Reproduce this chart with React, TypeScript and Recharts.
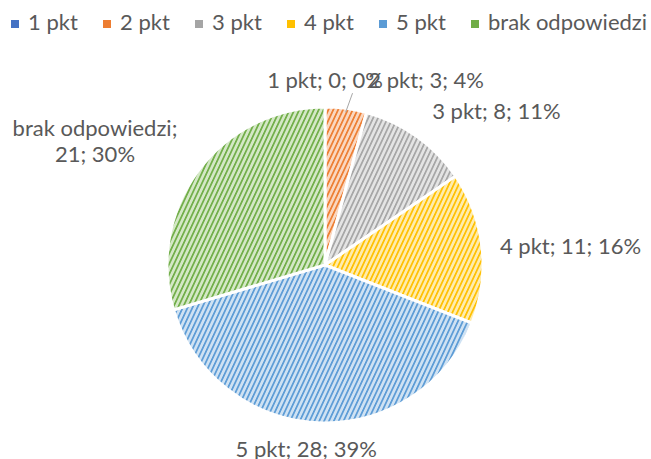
import { Cell, Legend, Pie, PieChart } from 'recharts'

const categories = ['1 pkt', '2 pkt', '3 pkt', '4 pkt', '5 pkt', 'brak odpowiedzi']
const counts = [0, 3, 8, 11, 28, 21]
const percentLabels = ['0%', '4%', '11%', '16%', '39%', '30%']

const colors = ['#4472C4', '#ED7D31', '#A5A5A5', '#FFC000', '#5B9BD5', '#70AD47']
const lightColors = ['#C9D6EE', '#FAD7C0', '#E4E4E4', '#FFECAD', '#CFE2F3', '#D4E8C6']

const data = categories.map((name, i) => ({ name, value: counts[i] }))

const TEXT = '#595959'
const FONT = 'Lato, "Open Sans", sans-serif'
const RADIAN = Math.PI / 180

// small nudges to mimic Excel's label placement
const labelNudge = [
  [0, -10],
  [20, -11],
  [5, -11],
  [0, 0],
  [-11, 8],
  [0, -19],
]

const renderLabel = (props: any) => {
  const { cx, cy, midAngle, outerRadius, index } = props
  const r = outerRadius + 18
  const cos = Math.cos(-midAngle * RADIAN)
  const sin = Math.sin(-midAngle * RADIAN)
  const x = cx + r * cos + labelNudge[index][0]
  const y = cy + r * sin + labelNudge[index][1]
  const text = `${categories[index]}; ${counts[index]}; ${percentLabels[index]}`

  if (index === 5) {
    // two line label on the left, centred block
    const bx = x - 89
    return (
      <text x={bx} y={y} fill={TEXT} fontSize={22} fontFamily={FONT} textAnchor="middle">
        <tspan x={bx} dy={-13} dominantBaseline="central">{categories[index]};</tspan>
        <tspan x={bx} dy={26} dominantBaseline="central">{`${counts[index]}; ${percentLabels[index]}`}</tspan>
      </text>
    )
  }

  let anchor: 'start' | 'middle' | 'end' = 'middle'
  if (index === 1 || index === 2 || index === 3) anchor = 'start'

  const leader =
    index === 0 ? (
      <line
        x1={cx + outerRadius * Math.sin(7.5 * RADIAN)}
        y1={cy - outerRadius * Math.cos(7.5 * RADIAN) + 4}
        x2={cx + (outerRadius + 18) * Math.sin(9 * RADIAN)}
        y2={cy - (outerRadius + 18) * Math.cos(9 * RADIAN) + 2}
        stroke="#A6A6A6"
        strokeWidth={1}
      />
    ) : null

  return (
    <g>
      {leader}
      <text
        x={x}
        y={y}
        fill={TEXT}
        fontSize={22}
        fontFamily={FONT}
        textAnchor={anchor}
        dominantBaseline="central"
      >
        {text}
      </text>
    </g>
  )
}

const renderLegend = () => (
  <div
    style={{
      display: 'flex',
      alignItems: 'center',
      fontFamily: FONT,
      fontSize: 22,
      color: TEXT,
      whiteSpace: 'nowrap',
      paddingLeft: 11,
    }}
  >
    {categories.map((c, i) => (
      <div
        key={c}
        style={{
          display: 'flex',
          alignItems: 'center',
          flexShrink: 0,
          width: i < categories.length - 1 ? 92 : undefined,
        }}
      >
        <span
          style={{
            display: 'inline-block',
            width: 8,
            height: 8,
            background: colors[i],
            marginRight: 9,
            marginTop: 3,
          }}
        />
        <span>{c}</span>
      </div>
    ))}
  </div>
)

export default function App() {
  return (
    <div style={{ position: 'absolute', left: 0, top: 0, background: '#fff' }}>
      <PieChart width={651} height={459} margin={{ top: 0, right: 0, bottom: 0, left: 0 }}>
        <defs>
          {colors.map((c, i) => (
            <pattern
              key={c}
              id={`hatch${i}`}
              width={4.4}
              height={4.4}
              patternUnits="userSpaceOnUse"
              patternTransform="rotate(25)"
            >
              <rect width={4.4} height={4.4} fill={lightColors[i]} />
              <rect width={1.7} height={4.4} fill={c} />
            </pattern>
          ))}
        </defs>
        <Legend
          verticalAlign="top"
          align="left"
          content={renderLegend}
          wrapperStyle={{ top: 10, left: 0, width: 651, lineHeight: '24px' }}
        />
        <Pie
          data={data}
          dataKey="value"
          nameKey="name"
          cx={325}
          cy={241}
          outerRadius={158}
          startAngle={90}
          endAngle={-270}
          stroke="#fff"
          strokeWidth={3}
          label={renderLabel}
          labelLine={false}
          isAnimationActive={false}
        >
          {data.map((d, i) => (
            <Cell key={d.name} fill={`url(#hatch${i})`} />
          ))}
        </Pie>
      </PieChart>
    </div>
  )
}
